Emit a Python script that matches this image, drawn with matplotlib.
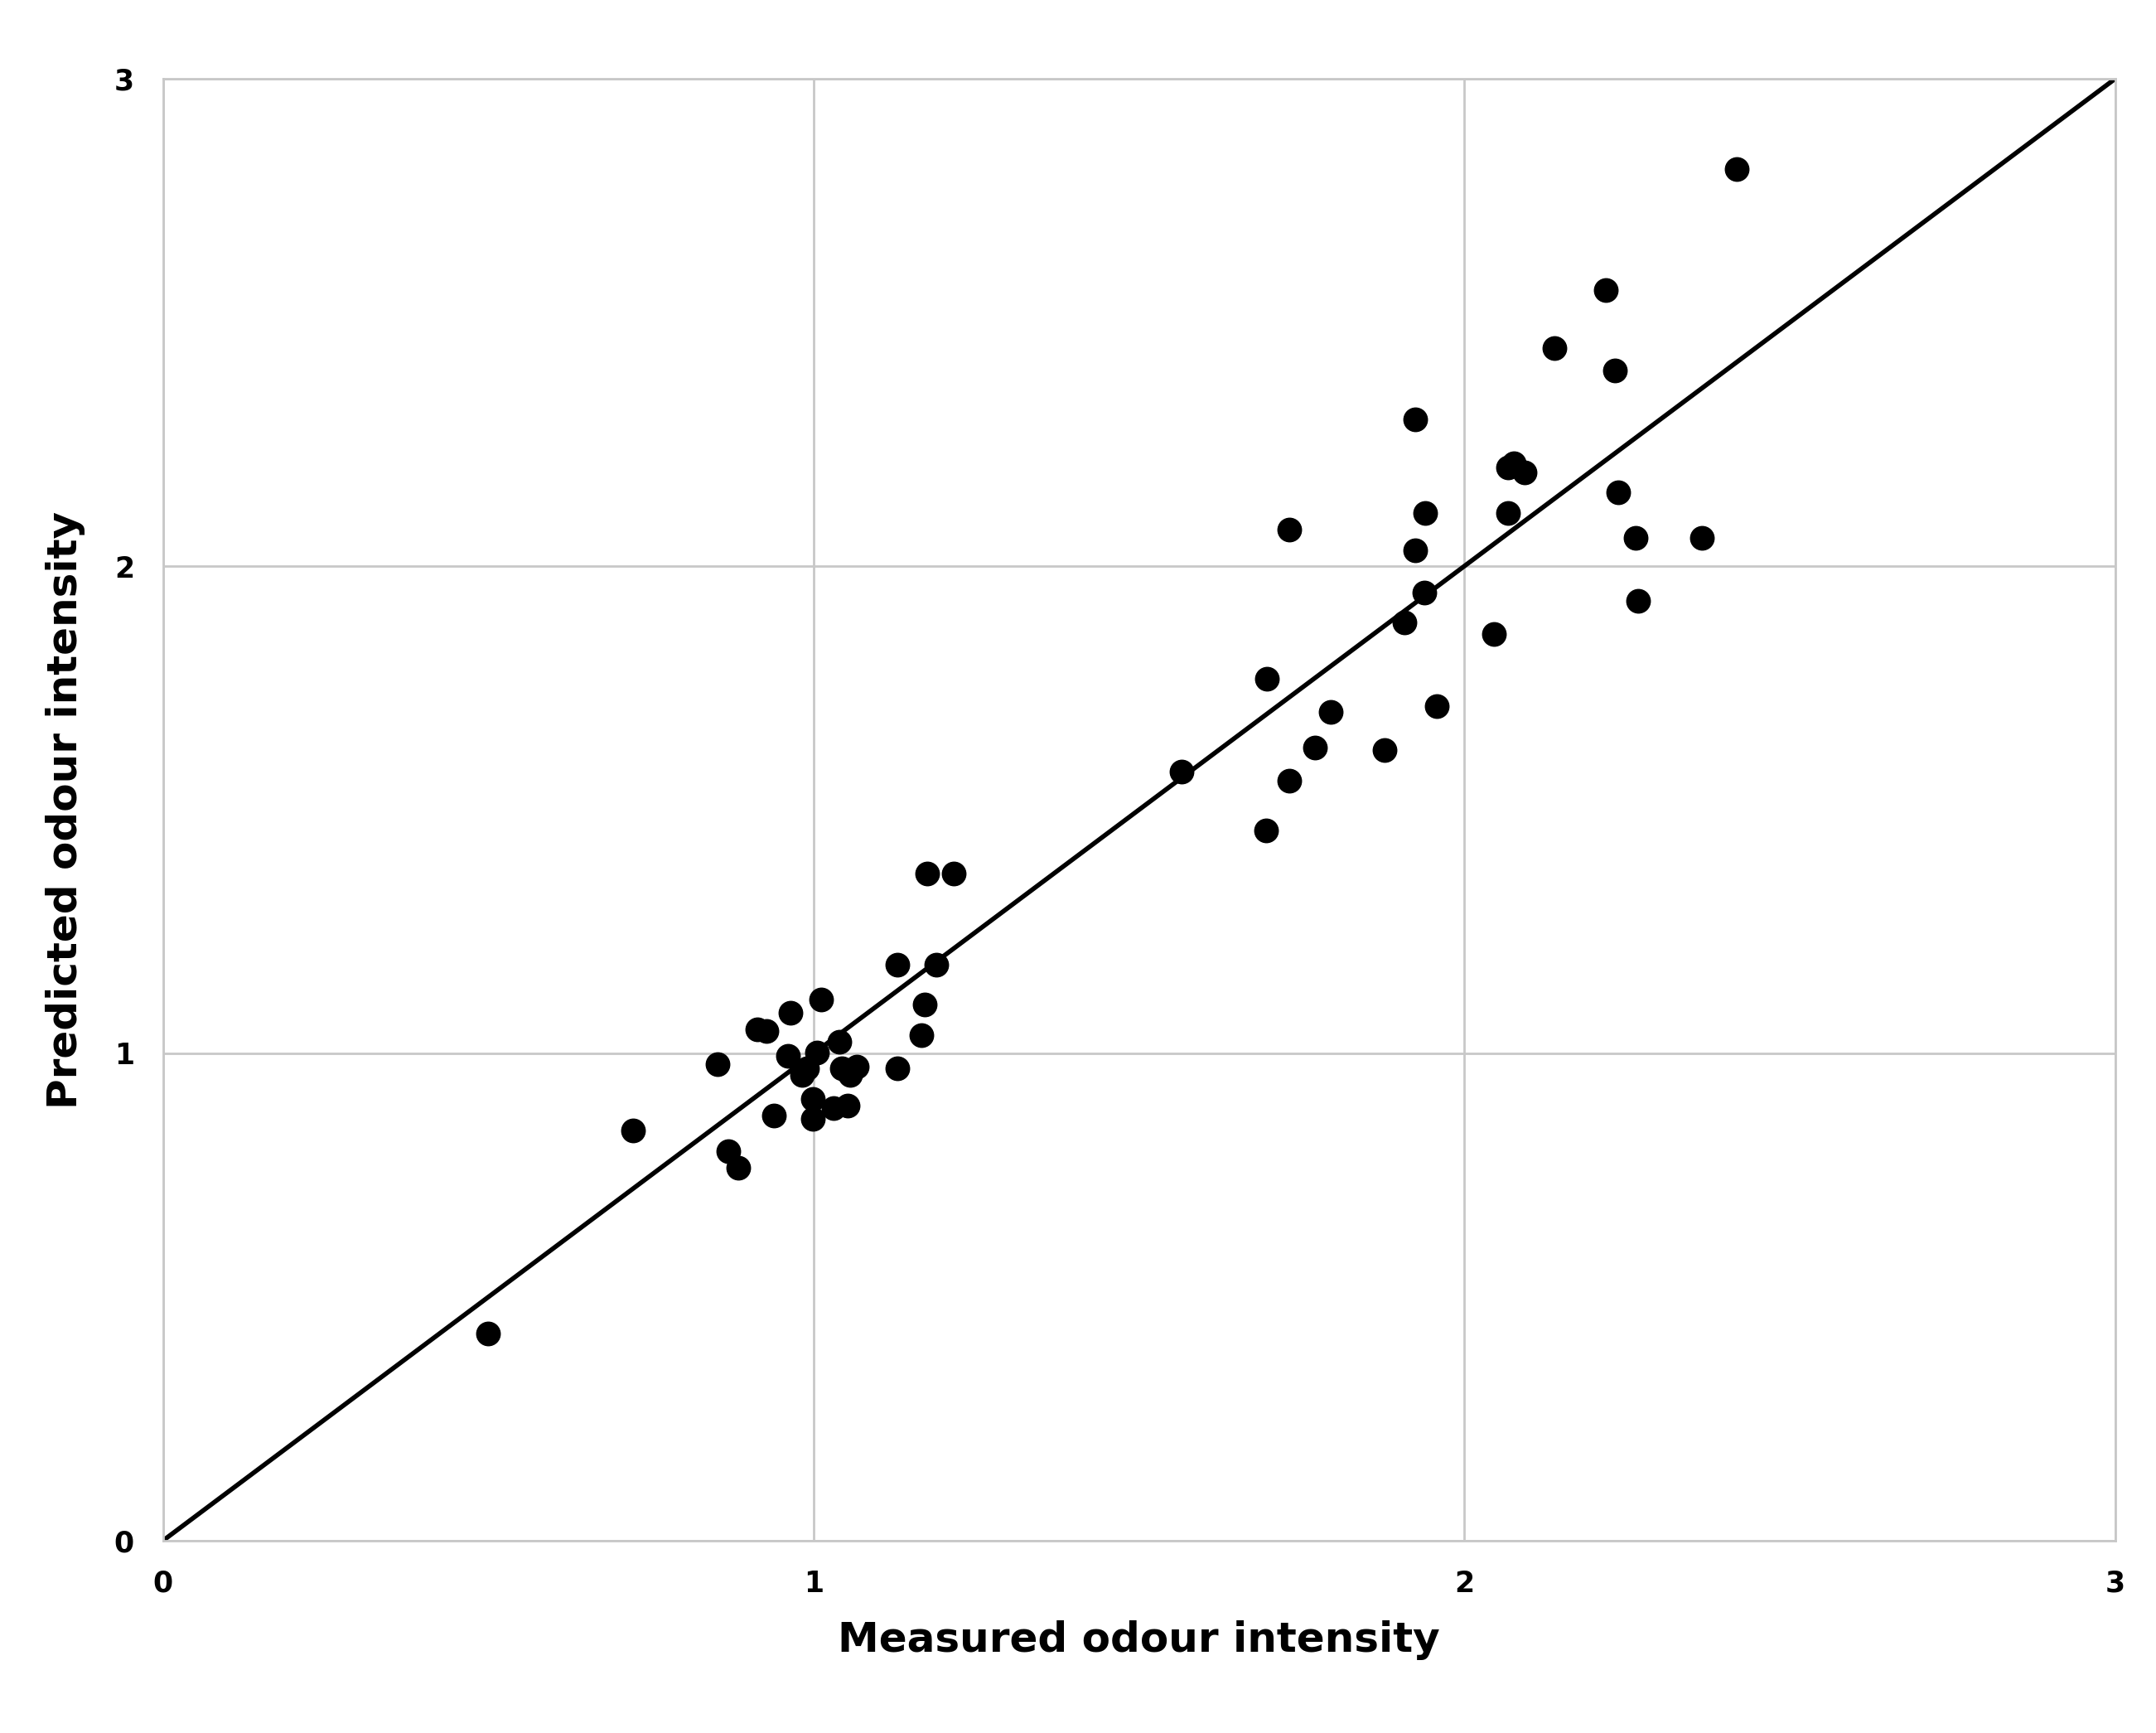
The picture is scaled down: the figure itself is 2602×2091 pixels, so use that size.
import matplotlib
matplotlib.use("Agg")
import matplotlib.pyplot as plt

measured = [0.50,0.722,0.852,0.869,0.884,0.913,0.928,0.939,0.964,0.960,0.982,0.990,0.999,0.999,1.005,1.011,1.030,1.039,1.043,1.052,1.056,1.066,1.128,1.128,1.166,1.171,1.175,1.188,1.215,1.566,1.695,1.697,1.731,1.731,1.770,1.795,1.878,1.908,1.925,1.925,1.938,1.940,1.957,2.046,2.067,2.067,2.076,2.093,2.139,2.218,2.231,2.237,2.263,2.267,2.365,2.418]
predicted = [0.425,0.842,0.978,0.80,0.766,1.049,1.046,0.873,1.083,0.995,0.955,0.970,0.907,0.865,1.001,1.111,0.887,1.024,0.970,0.893,0.955,0.972,1.182,0.970,1.038,1.100,1.369,1.182,1.369,1.579,1.457,1.769,1.559,2.075,1.627,1.701,1.622,1.885,2.033,2.302,1.945,2.109,1.713,1.860,2.109,2.203,2.211,2.192,2.447,2.566,2.401,2.152,2.058,1.928,2.058,2.815]
line_x = [0, 3]
ticks = [0, 1, 2, 3]

fig = plt.figure(figsize=(26.02, 20.91), dpi=100)
ax = fig.add_axes([0.0756, 0.111, 0.9054, 0.8435])
ax.plot(line_x, line_x, color='black', lw=4, zorder=2)
ax.scatter(measured, predicted, s=420, color='black', zorder=3)
ax.set_xlim(0, 3); ax.set_ylim(0, 3)
ax.set_xticks(ticks); ax.set_yticks(ticks)
ax.grid(True, color='#c8c8c8', lw=2)
ax.set_axisbelow(True)
for s in ax.spines.values():
    s.set_color('#c8c8c8'); s.set_linewidth(2)
ax.tick_params(length=0, labelsize=25, pad=25)
for l in ax.get_xticklabels() + ax.get_yticklabels():
    l.set_fontweight('bold')
ax.set_xlabel('Measured odour intensity', fontsize=36, fontweight='bold', labelpad=20)
ax.set_ylabel('Predicted odour intensity', fontsize=36, fontweight='bold', labelpad=25)
fig.savefig('out.png', dpi=100)
